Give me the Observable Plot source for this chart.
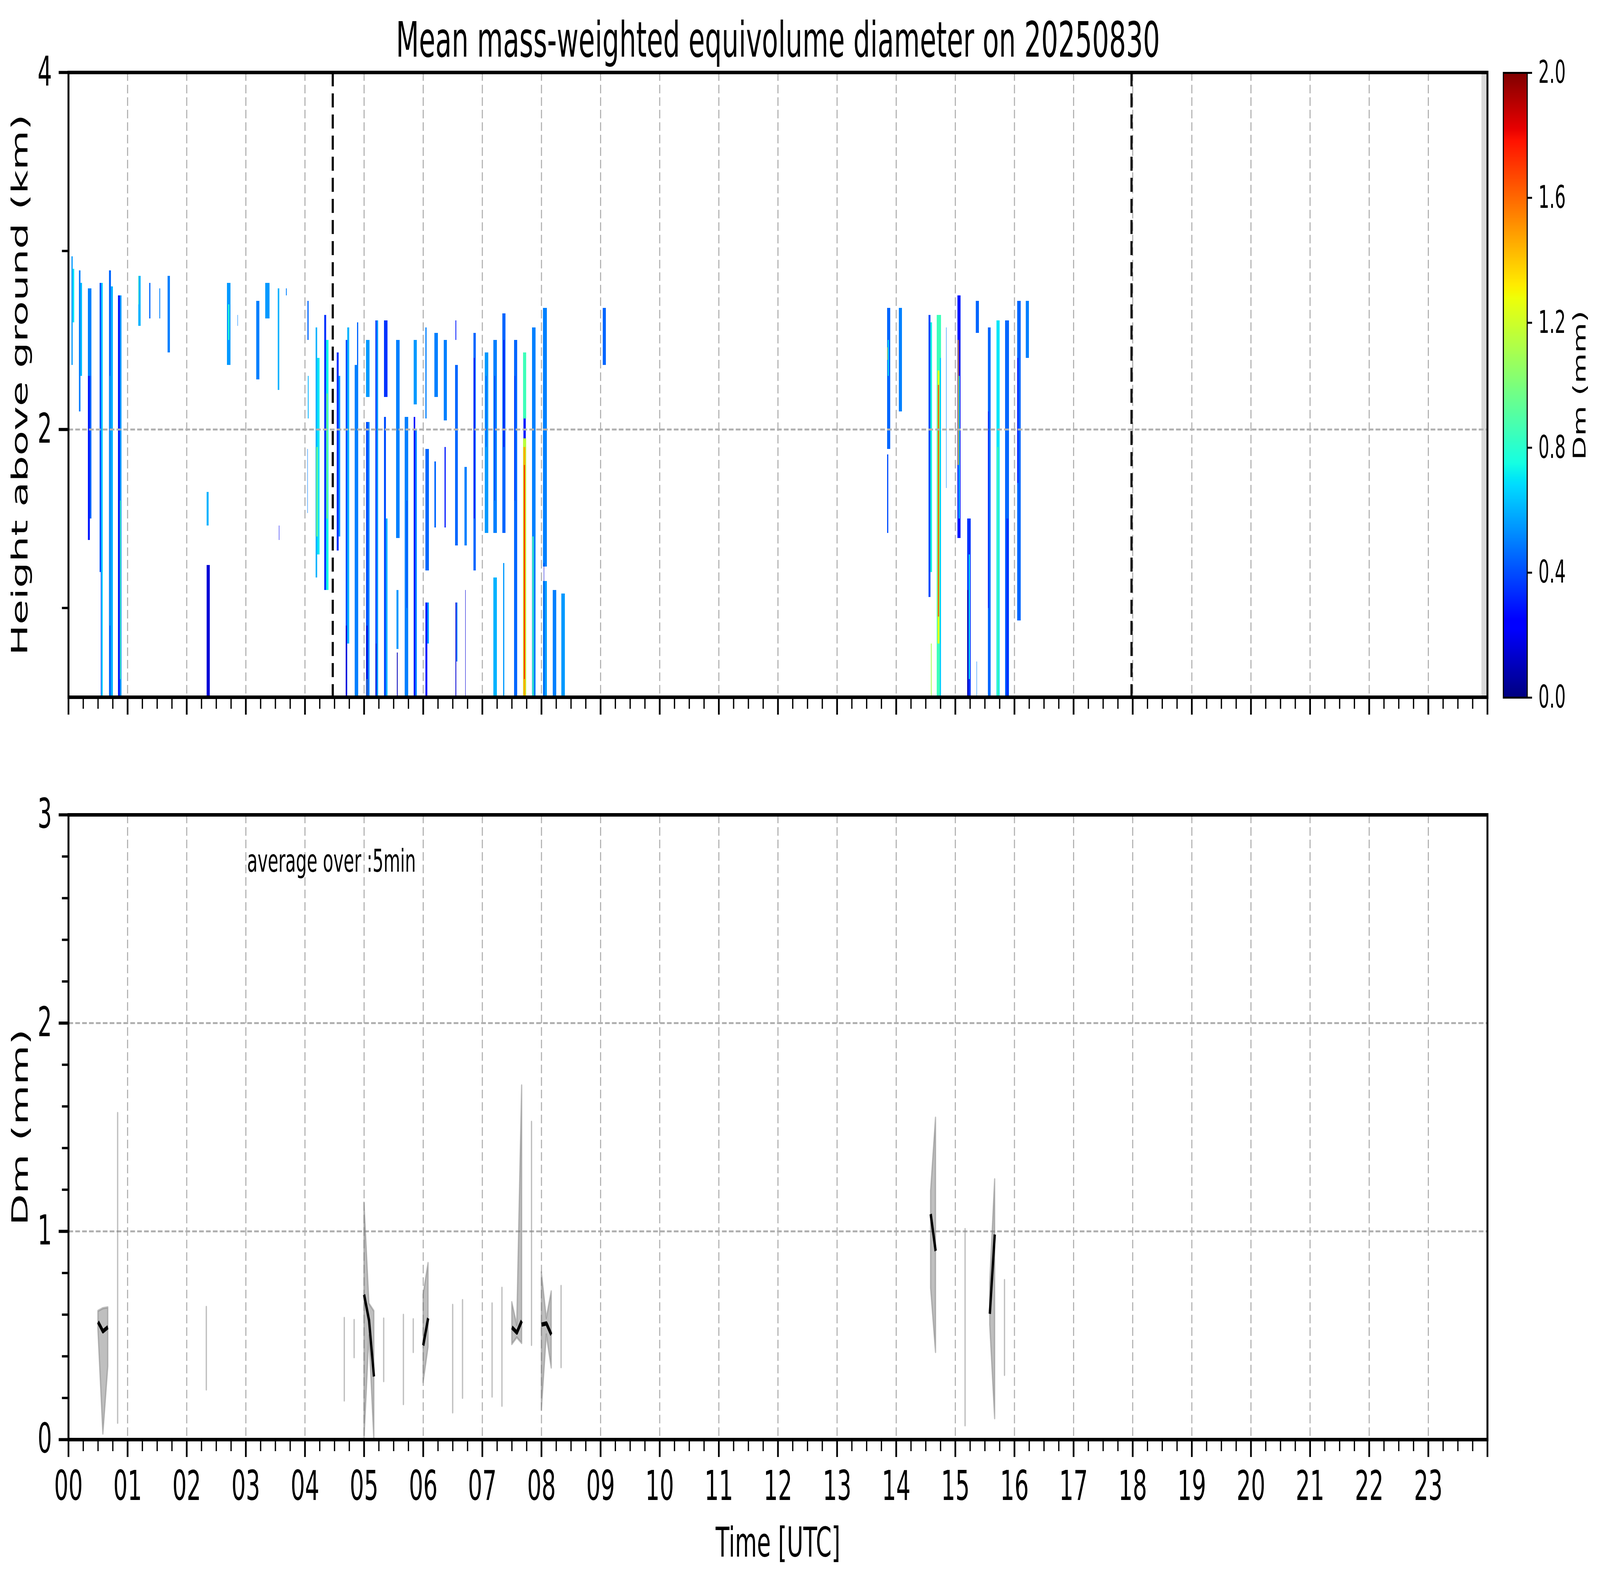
<!DOCTYPE html>
<html>
<head>
<meta charset="utf-8">
<script src="https://cdn.jsdelivr.net/npm/d3@7"></script>
<script src="https://cdn.jsdelivr.net/npm/@observablehq/plot@0.6"></script>
<style>
html, body { margin: 0; padding: 0; background: #fff; overflow: hidden; }
#wrap { position: relative; overflow: hidden; background: #fff; }
#page { position: absolute; left: 0; top: 0; width: 7442px; height: 4031px; background: #fff; overflow: hidden; font-family: "DejaVu Sans"; transform-origin: 0 0; }
#page > div { position: absolute; }
#page svg { max-width: none !important; display: block; }
</style>
</head>
<body>
<div id="wrap">
<div id="page">
  <div id="top" style="left:0px; top:0px; width:6960px;"></div>
  <div id="cbar" style="left:6950px; top:0px; width:492px;"></div>
  <div id="bottom" style="left:0px; top:1950px; width:6960px;"></div>
</div>
</div>
<script>
// ---------------- DATA ----------------
const titleText = "Mean mass-weighted equivolume diameter on 20250830";
const hourLabels = ["00","01","02","03","04","05","06","07","08","09","10","11","12","13","14","15","16","17","18","19","20","21","22","23"];
const heightTicks = [2, 4];
const heightMinorTicks = [1, 3];
const dmTicks = [0, 1, 2, 3];
const dmMinorTicks = [0.2, 0.4, 0.6, 0.8, 1.2, 1.4, 1.6, 1.8, 2.2, 2.4, 2.6, 2.8];
const colorbarTicks = [0.0, 0.4, 0.8, 1.2, 1.6, 2.0];
const eventLines = [4.47, 17.98];          // dashed black markers (hours UTC)
const noDataStart = 23.9;                  // grey "no data" band until 24 h

// Heatmap stripes: [start hour, end hour, bottom km, top km, Dm mm]
const stripesNight = [
  [0.05, 0.075, 2.36, 2.97, 0.55],[0.075, 0.096, 2.60, 2.90, 0.70],[0.18, 0.205, 2.10, 2.89, 0.50],
  [0.205, 0.23, 2.30, 2.82, 0.62],[0.33, 0.39, 2.30, 2.79, 0.50],[0.33, 0.36, 1.38, 2.30, 0.30],
  [0.36, 0.39, 1.50, 2.30, 0.45],[0.53, 0.555, 1.20, 2.82, 0.40],[0.555, 0.58, 0.50, 2.82, 0.65],
  [0.545, 0.555, 0.50, 1.20, 0.20],[0.69, 0.72, 0.50, 2.89, 0.45],[0.72, 0.75, 0.50, 2.80, 0.60],
  [0.70, 0.71, 0.90, 2.30, 0.75],[0.84, 0.87, 0.50, 2.75, 0.30],[0.87, 0.90, 0.50, 2.75, 0.55],
  [0.87, 0.885, 0.60, 1.60, 0.90],[1.18, 1.22, 2.58, 2.86, 0.60],[1.18, 1.19, 2.70, 2.86, 0.90],
  [1.37, 1.39, 2.62, 2.82, 0.45],[1.54, 1.555, 2.62, 2.79, 0.50],[1.68, 1.72, 2.43, 2.86, 0.50],
  [2.34, 2.37, 1.46, 1.65, 0.60],[2.34, 2.39, 0.50, 1.24, 0.15],[2.68, 2.74, 2.36, 2.82, 0.55],
  [2.70, 2.72, 2.50, 2.70, 0.80],[2.86, 2.87, 2.58, 2.64, 0.50],[3.18, 3.23, 2.28, 2.72, 0.50],
  [3.33, 3.40, 2.62, 2.82, 0.55],[3.54, 3.57, 2.22, 2.79, 0.60],[3.56, 3.57, 1.38, 1.46, 0.20],
  [3.68, 3.69, 2.75, 2.79, 0.50]
];
const stripesMorning = [
  [4.04, 4.06, 2.50, 2.72, 0.45],[4.04, 4.05, 1.53, 1.89, 0.50],[4.05, 4.06, 2.06, 2.30, 0.60],
  [4.18, 4.21, 1.17, 2.57, 0.60],[4.21, 4.25, 1.30, 2.40, 0.70],[4.195, 4.215, 1.40, 1.90, 1.00],
  [4.33, 4.36, 1.10, 2.64, 0.35],[4.36, 4.40, 1.10, 2.50, 0.75],[4.37, 4.385, 1.50, 2.20, 1.00],
  [4.54, 4.57, 1.32, 2.43, 0.35],[4.57, 4.595, 1.40, 2.30, 0.55],[4.69, 4.72, 0.50, 2.50, 0.40],
  [4.72, 4.75, 0.80, 2.57, 0.60],[4.69, 4.71, 0.50, 0.90, 0.15],[4.84, 4.90, 0.50, 2.36, 0.50],
  [4.88, 4.90, 2.36, 2.60, 0.45],[5.035, 5.096, 2.18, 2.50, 0.55],[5.035, 5.065, 0.50, 2.04, 0.40],
  [5.065, 5.096, 0.50, 2.04, 0.50],[5.04, 5.06, 0.50, 0.90, 0.15],[5.05, 5.055, 0.50, 0.60, 1.00],
  [5.19, 5.215, 0.50, 2.61, 0.35],[5.215, 5.24, 0.50, 2.61, 0.55],[5.20, 5.215, 0.50, 0.80, 0.15],
  [5.34, 5.40, 2.18, 2.61, 0.35],[5.34, 5.37, 0.50, 2.07, 0.40],[5.37, 5.40, 0.50, 1.50, 0.60],
  [5.54, 5.60, 1.39, 2.50, 0.50],[5.55, 5.58, 0.77, 1.10, 0.55],[5.555, 5.57, 0.50, 0.75, 0.10],
  [5.69, 5.75, 0.50, 2.07, 0.50],[5.72, 5.73, 1.00, 1.60, 0.30],[5.84, 5.89, 2.14, 2.50, 0.55],
  [5.84, 5.865, 0.50, 2.07, 0.30],[5.865, 5.89, 0.50, 2.00, 0.50],[6.04, 6.06, 2.06, 2.57, 0.50],
  [6.04, 6.095, 1.21, 1.89, 0.45],[6.04, 6.07, 0.50, 1.03, 0.30],[6.07, 6.095, 0.80, 1.03, 0.55],
  [6.19, 6.25, 2.18, 2.54, 0.50],[6.19, 6.22, 1.45, 1.82, 0.45],[6.35, 6.40, 2.05, 2.50, 0.50],
  [6.36, 6.38, 1.45, 1.90, 0.30],[6.54, 6.59, 1.35, 2.36, 0.45],[6.55, 6.56, 2.50, 2.61, 0.30],
  [6.545, 6.56, 0.50, 1.03, 0.15],[6.56, 6.58, 0.70, 1.03, 0.50],[6.70, 6.74, 1.35, 1.79, 0.50],
  [6.71, 6.72, 0.50, 1.10, 0.15],[6.85, 6.89, 1.21, 2.54, 0.45],[6.86, 6.87, 1.50, 2.40, 0.20],
  [7.04, 7.10, 1.42, 2.43, 0.55],[7.06, 7.07, 1.90, 2.30, 0.30],[7.19, 7.25, 1.42, 2.50, 0.50],
  [7.19, 7.25, 0.50, 1.17, 0.60],[7.205, 7.215, 1.60, 2.30, 0.20],[7.34, 7.39, 1.42, 2.65, 0.45],
  [7.355, 7.37, 0.50, 1.25, 0.55],[7.36, 7.375, 1.90, 2.50, 0.20],[7.54, 7.59, 0.50, 2.50, 0.45],
  [7.545, 7.56, 1.60, 2.30, 0.35],[7.69, 7.74, 2.06, 2.43, 0.85],[7.695, 7.735, 1.95, 2.06, 0.30],
  [7.69, 7.74, 0.50, 1.95, 1.15],[7.70, 7.73, 0.50, 1.90, 1.45],[7.706, 7.724, 0.60, 1.80, 1.70],
  [7.84, 7.90, 0.50, 2.57, 0.50],[7.85, 7.87, 0.50, 1.40, 0.85],[8.03, 8.09, 1.23, 2.68, 0.50],
  [8.03, 8.09, 0.50, 1.15, 0.55],[8.04, 8.05, 0.50, 1.25, 0.15],[8.19, 8.25, 0.50, 1.10, 0.50],
  [8.21, 8.215, 1.23, 1.55, 0.50],[8.21, 8.215, 2.00, 2.50, 0.50],[8.34, 8.40, 0.50, 1.08, 0.55],
  [9.04, 9.09, 2.36, 2.68, 0.45]
];
const stripesAfternoon = [
  [13.85, 13.90, 1.89, 2.68, 0.45],[13.85, 13.87, 1.42, 1.86, 0.40],[13.86, 13.875, 2.30, 2.50, 0.75],
  [13.85, 13.855, 2.39, 2.46, 1.40],[14.044, 14.10, 2.10, 2.68, 0.50],[14.55, 14.58, 1.06, 2.64, 0.40],
  [14.58, 14.61, 1.20, 2.60, 0.75],[14.59, 14.60, 0.50, 0.80, 1.10],[14.69, 14.76, 0.50, 2.64, 0.85],
  [14.70, 14.735, 0.80, 2.33, 1.25],[14.705, 14.725, 0.95, 2.25, 1.62],[14.74, 14.76, 0.50, 2.40, 0.65],
  [14.845, 14.855, 1.67, 2.57, 0.50],[15.04, 15.09, 1.39, 2.75, 0.30],[15.045, 15.055, 1.80, 2.50, 1.50],
  [15.06, 15.075, 1.50, 2.30, 0.65],[15.20, 15.26, 0.50, 1.50, 0.35],[15.20, 15.22, 0.50, 1.10, 0.10],
  [15.23, 15.25, 0.60, 1.30, 0.70],[15.35, 15.40, 2.54, 2.72, 0.45],[15.36, 15.37, 0.50, 0.70, 0.50],
  [15.55, 15.60, 0.50, 2.57, 0.45],[15.555, 15.565, 1.00, 2.10, 0.30],[15.70, 15.75, 0.50, 2.61, 0.70],
  [15.71, 15.73, 0.50, 1.90, 0.90],[15.84, 15.91, 0.50, 2.61, 0.45],[15.86, 15.90, 0.50, 1.50, 0.35],
  [16.045, 16.105, 0.93, 2.72, 0.45],[16.05, 16.07, 1.70, 2.40, 0.30],[16.195, 16.245, 2.40, 2.72, 0.50],
  [16.21, 16.215, 2.50, 2.55, 1.90]
];

// 5-minute averages (bottom panel): minute of day, mean, lower and upper envelope (mm)
const avgMinute = [30,35,40,50,140,280,290,300,305,310,320,340,350,360,365,390,400,430,440,450,455,460,470,480,485,490,500,875,880,910,935,940,950];
const avgMean = [0.565,0.52,0.54,0.60,0.45,0.40,0.48,0.696,0.573,0.303,0.43,0.40,0.50,0.452,0.583,0.40,0.45,0.43,0.45,0.539,0.514,0.57,0.95,0.552,0.558,0.504,0.55,1.083,0.906,0.55,0.604,0.985,0.54];
const avgLow = [0.527,0.028,0.351,0.08,0.24,0.187,0.395,0.0,0.50,0.0,0.28,0.17,0.42,0.275,0.445,0.13,0.20,0.206,0.162,0.458,0.49,0.463,0.454,0.143,0.504,0.345,0.347,0.728,0.42,0.068,0.552,0.102,0.31];
const avgHigh = [0.617,0.630,0.634,1.567,0.636,0.583,0.573,1.137,0.653,0.617,0.58,0.598,0.577,0.696,0.847,0.646,0.669,0.653,0.728,0.659,0.55,1.70,1.525,0.803,0.583,0.711,0.737,1.193,1.545,1.01,0.753,1.249,0.765];
const avgNote = "average over :5min";

// ---------------- FIT THE 7442x4031 LAYOUT TO THE ACTUAL VIEWPORT ----------------
(function fit() {
  const vw = window.innerWidth || document.documentElement.clientWidth || 7442;
  const vh = window.innerHeight || document.documentElement.clientHeight || 4031;
  let sx = Math.min(1, vw / 7442), sy = Math.min(1, vh / 4031);
  if (!(sx > 0)) sx = 1;
  if (!(sy > 0)) sy = 1;
  const wrap = document.getElementById("wrap");
  wrap.style.width = (7442 * sx) + "px";
  wrap.style.height = (4031 * sy) + "px";
  document.getElementById("page").style.transform = `scale(${sx}, ${sy})`;
})();

// ---------------- STYLE HELPERS ----------------
const jetR = [[0,0],[0.35,0],[0.66,1],[0.89,1],[1,0.5]];
const jetG = [[0,0],[0.125,0],[0.375,1],[0.64,1],[0.91,0],[1,0]];
const jetB = [[0,0.5],[0.11,1],[0.34,1],[0.65,0],[1,0]];
function pw(pts, t) {
  t = Math.max(0, Math.min(1, t));
  for (let i = 1; i < pts.length; i++) {
    if (t <= pts[i][0]) { const [x0, y0] = pts[i-1], [x1, y1] = pts[i]; return y0 + (y1 - y0) * (t - x0) / (x1 - x0); }
  }
  return pts[pts.length-1][1];
}
function jet(t) {
  return `rgb(${Math.round(255 * pw(jetR, t))},${Math.round(255 * pw(jetG, t))},${Math.round(255 * pw(jetB, t))})`;
}
const colorScale = {type: "linear", domain: [0, 2], interpolate: jet, clamp: true};
const FONT = "DejaVu Sans";
const TICKFONT = 105;
const gridStyle = {stroke: "#b0b0b0", strokeOpacity: 1, strokeWidth: 5, strokeDasharray: "22,10"};
const hourTicks = d3.range(0, 25);
const quarterTicks = d3.range(0, 24.001, 0.25).filter(d => Math.abs(d - Math.round(d)) > 1e-6);
const stripes = [...stripesNight, ...stripesMorning, ...stripesAfternoon];

// ---------------- TOP PANEL ----------------
const topW = 6960, topH = 1860;
document.getElementById("top").appendChild(Plot.plot({
  width: topW, height: topH,
  marginLeft: 318, marginRight: topW - 6918, marginTop: 185, marginBottom: topH - 1784,
  style: {fontFamily: FONT, background: "transparent", overflow: "visible"},
  x: {domain: [0, 24]}, y: {domain: [0.5, 4]}, color: colorScale,
  marks: [
    Plot.rect([noDataStart], {x1: d => d, x2: 24, y1: 0.5, y2: 4, fill: "#d9d9d9"}),
    Plot.rect(stripes, {x1: d => d[0], x2: d => d[1], y1: d => d[2], y2: d => d[3], fill: d => d[4], shapeRendering: "crispEdges"}),
    Plot.gridX({ticks: hourTicks.slice(1, 24), ...gridStyle}),
    Plot.gridY({ticks: [2], ...gridStyle}),
    Plot.ruleX(eventLines, {x: d => d, stroke: "black", strokeWidth: 10, strokeDasharray: "36,18"}),
    Plot.frame({stroke: "black", strokeWidth: 9}),
    Plot.axisX({ticks: hourTicks, tickSize: 45, strokeWidth: 8, tickFormat: () => "", label: null}),
    Plot.axisX({ticks: quarterTicks, tickSize: 30, strokeWidth: 6, tickFormat: () => "", label: null}),
    Plot.axisY({ticks: heightTicks, tickSize: 45, tickPadding: 32, strokeWidth: 8, fontSize: TICKFONT, tickFormat: d => String(d), label: null}),
    Plot.axisY({ticks: heightMinorTicks, tickSize: 30, strokeWidth: 6, tickFormat: () => "", label: null}),
    Plot.text([titleText], {text: d => d, frameAnchor: "top", textAnchor: "middle", lineAnchor: "middle", dy: -80, fontSize: 124}),
    Plot.text(["Height above ground (km)"], {text: d => d, frameAnchor: "left", rotate: -90, textAnchor: "middle", lineAnchor: "middle", dx: -225, fontSize: TICKFONT})
  ]
}));

// ---------------- COLORBAR ----------------
const cbW = 492, cbH = 1860, cbStep = 0.005;
const cbSteps = d3.range(0, 2, cbStep);
document.getElementById("cbar").appendChild(Plot.plot({
  width: cbW, height: cbH,
  marginLeft: 42, marginRight: cbW - 42 - 111, marginTop: 186, marginBottom: cbH - 1785,
  style: {fontFamily: FONT, background: "transparent", overflow: "visible"},
  x: {domain: [0, 1], axis: null}, y: {domain: [0, 2]}, color: colorScale,
  marks: [
    Plot.rect(cbSteps, {x1: 0, x2: 1, y1: d => d, y2: d => Math.min(2, d + cbStep * 1.5), fill: d => d + cbStep / 2, shapeRendering: "crispEdges"}),
    Plot.frame({stroke: "black", strokeWidth: 5}),
    Plot.axisY({anchor: "right", ticks: colorbarTicks, tickSize: 22, tickPadding: 30, strokeWidth: 5, fontSize: 80, tickFormat: d => d.toFixed(1), label: null}),
    Plot.text(["Dm (mm)"], {text: d => d, frameAnchor: "right", rotate: -90, textAnchor: "middle", lineAnchor: "middle", dx: 246, fontSize: 80})
  ]
}));

// ---------------- BOTTOM PANEL ----------------
const avgRows = avgMinute.map((m, i) => ({hour: m / 60, mean: avgMean[i], low: avgLow[i], high: avgHigh[i]}));
let seg = 0;
avgRows.forEach((r, i) => { if (i > 0 && avgMinute[i] - avgMinute[i-1] > 5) seg++; r.seg = seg; });
const botW = 6960, botH = 4031 - 1950;
document.getElementById("bottom").appendChild(Plot.plot({
  width: botW, height: botH,
  marginLeft: 318, marginRight: botW - 6918, marginTop: 2085 - 1950, marginBottom: botH - (3684 - 1950),
  style: {fontFamily: FONT, background: "transparent", overflow: "visible"},
  x: {domain: [0, 24]}, y: {domain: [0, 3]},
  marks: [
    Plot.gridX({ticks: hourTicks.slice(1, 24), ...gridStyle}),
    Plot.gridY({ticks: [1, 2], ...gridStyle}),
    Plot.areaY(avgRows, {x: "hour", y1: "low", y2: "high", z: "seg", fill: "#808080", fillOpacity: 0.5, stroke: "#808080", strokeOpacity: 0.5, strokeWidth: 6, strokeLinecap: "butt", strokeLinejoin: "round"}),
    Plot.line(avgRows, {x: "hour", y: "mean", z: "seg", stroke: "black", strokeWidth: 11, strokeLinecap: "butt", strokeLinejoin: "round"}),
    Plot.text([avgNote], {text: d => d, x: 3.02, y: 2.775, textAnchor: "start", lineAnchor: "middle", fontSize: 80}),
    Plot.frame({stroke: "black", strokeWidth: 9}),
    Plot.axisX({ticks: hourTicks, tickSize: 45, tickPadding: 35, strokeWidth: 8, fontSize: TICKFONT, tickFormat: d => hourLabels[d] ?? "", label: null}),
    Plot.axisX({ticks: quarterTicks, tickSize: 30, strokeWidth: 6, tickFormat: () => "", label: null}),
    Plot.axisY({ticks: dmTicks, tickSize: 45, tickPadding: 32, strokeWidth: 8, fontSize: TICKFONT, tickFormat: d => String(d), label: null}),
    Plot.axisY({ticks: dmMinorTicks, tickSize: 30, strokeWidth: 6, tickFormat: () => "", label: null}),
    Plot.text(["Time [UTC]"], {text: d => d, frameAnchor: "bottom", textAnchor: "middle", lineAnchor: "middle", dy: 266, fontSize: TICKFONT}),
    Plot.text(["Dm (mm)"], {text: d => d, frameAnchor: "left", rotate: -90, textAnchor: "middle", lineAnchor: "middle", dx: -223, fontSize: TICKFONT})
  ]
}));
</script>
</body>
</html>
